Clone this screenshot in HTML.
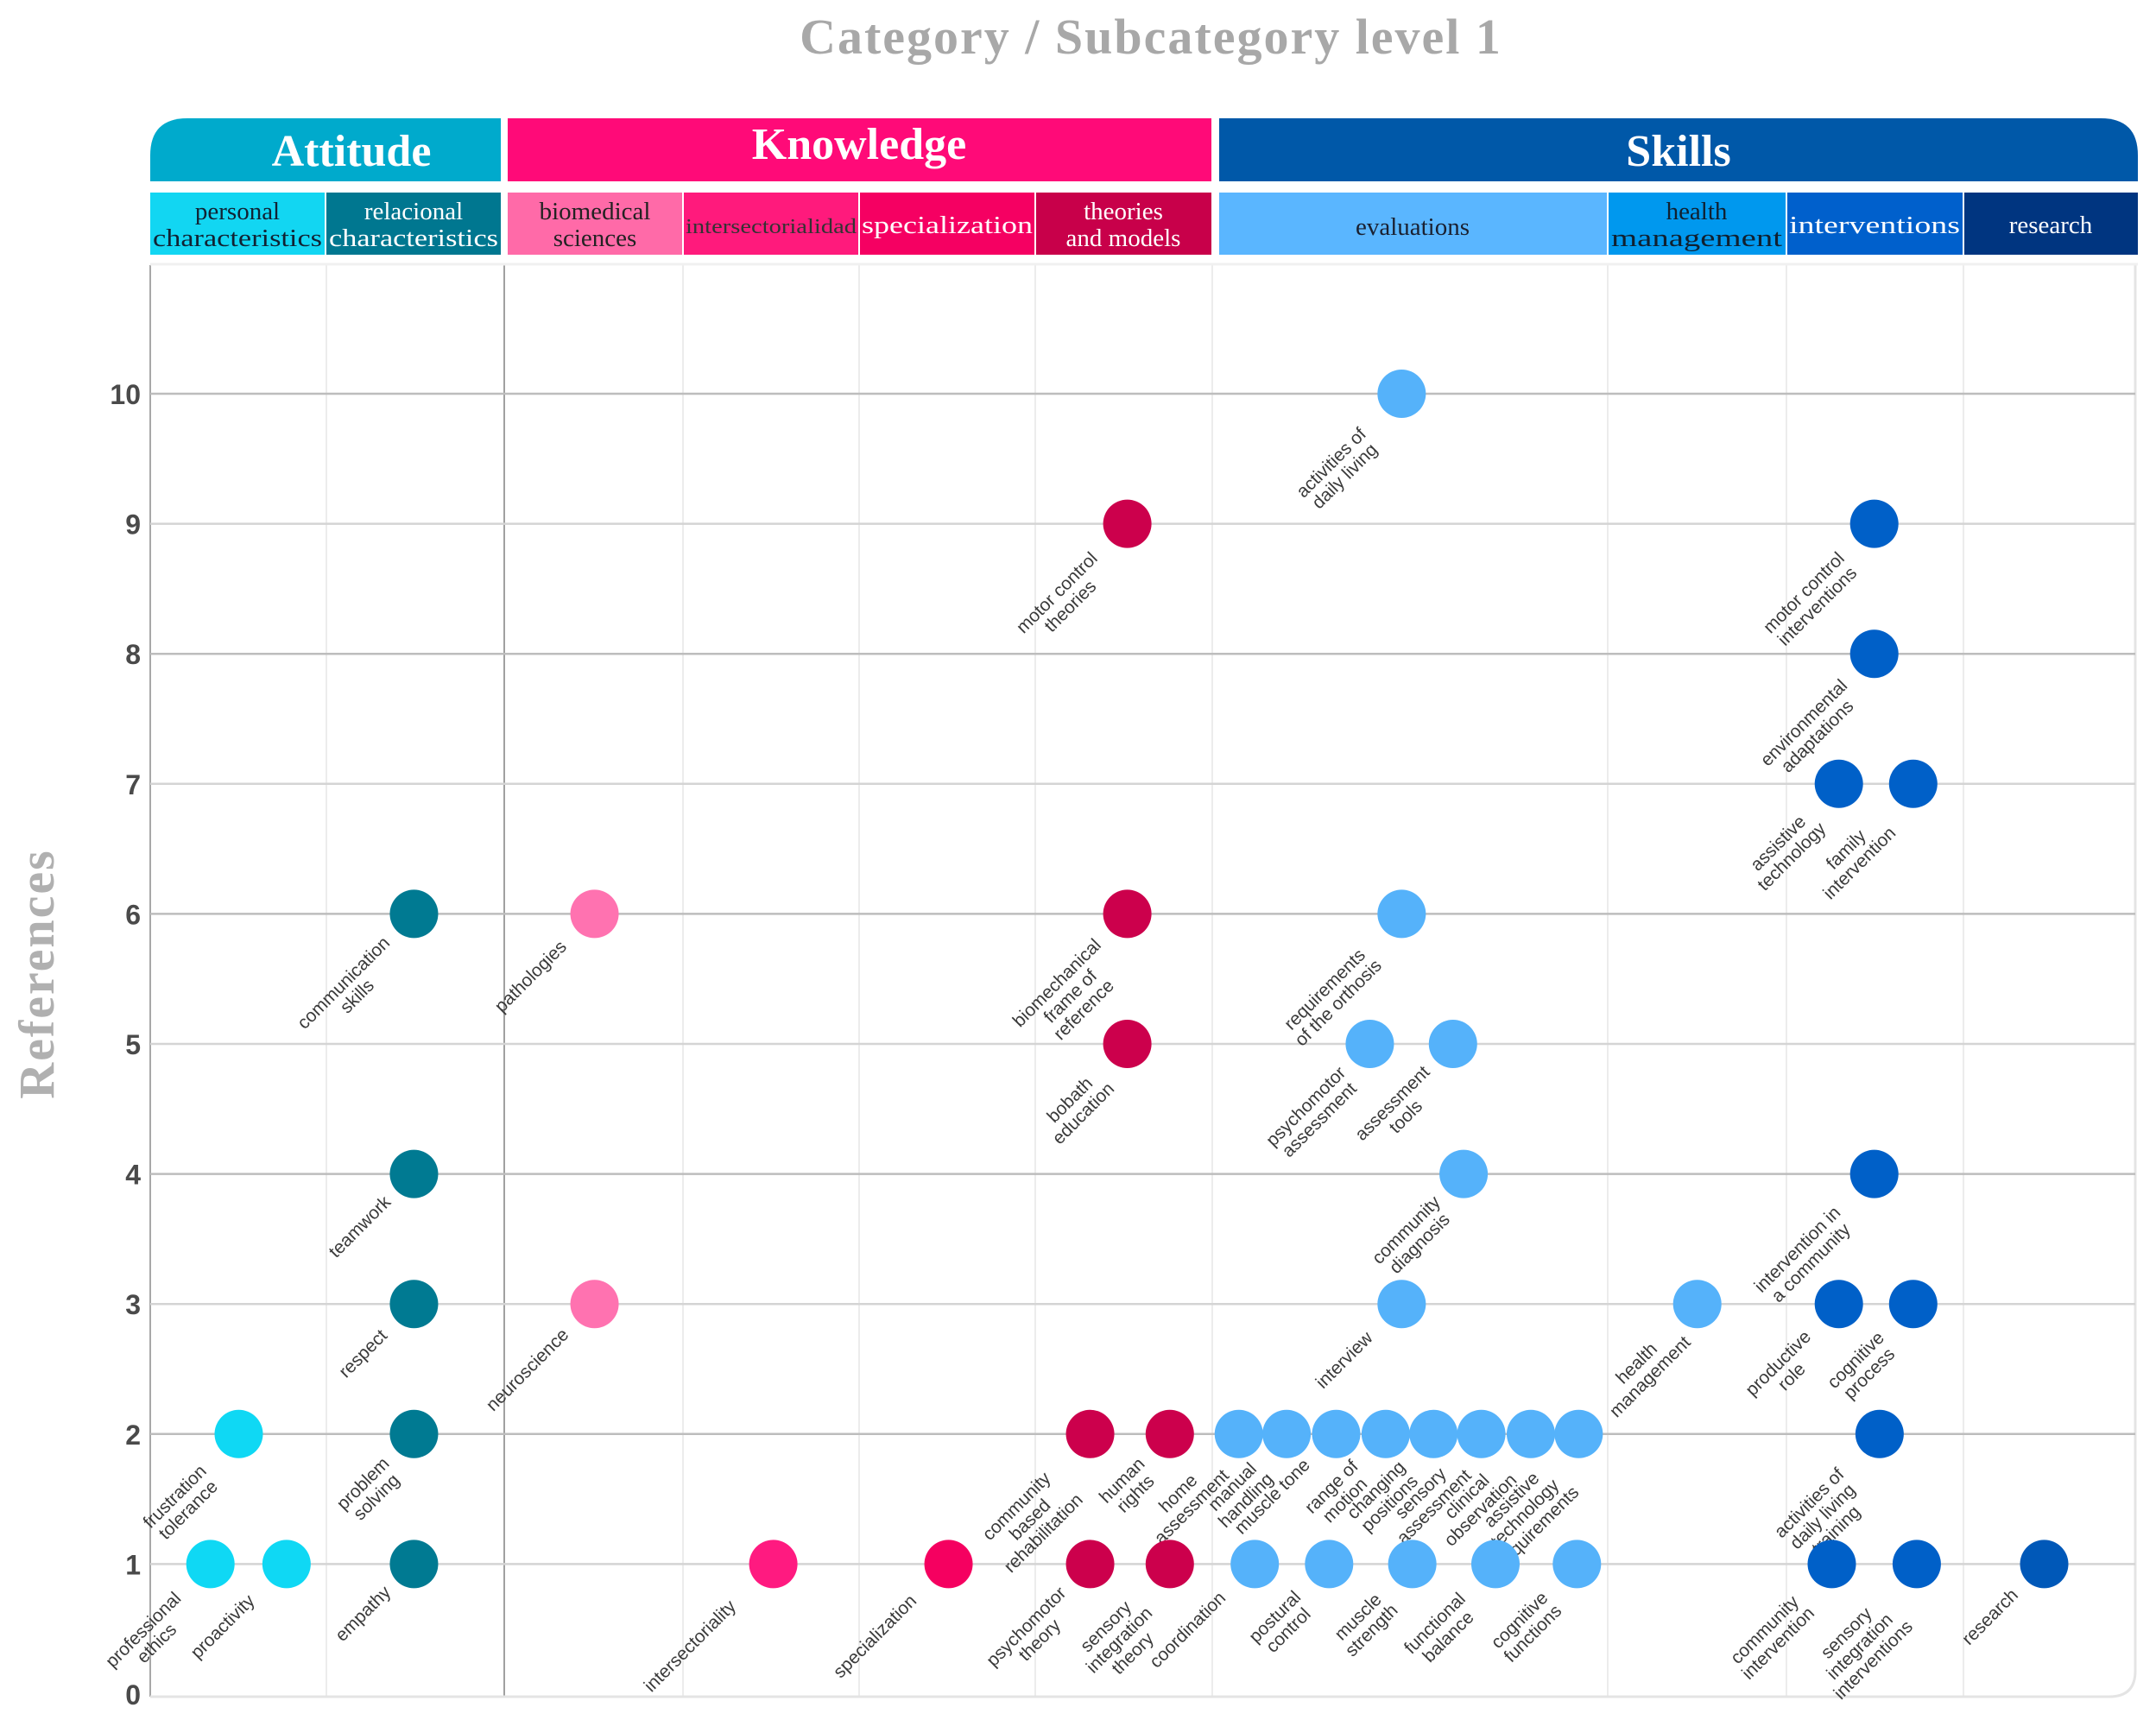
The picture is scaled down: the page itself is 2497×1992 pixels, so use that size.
<!DOCTYPE html>
<html><head><meta charset="utf-8"><title>Category / Subcategory level 1</title>
<style>
html,body{margin:0;padding:0;background:#fff;}
svg{display:block;}
</style></head>
<body>
<svg id="chart" xmlns="http://www.w3.org/2000/svg" width="2497" height="1992" viewBox="0 0 2497 1992">
  <text x="1333" y="62" text-anchor="middle" font-family="Liberation Serif, serif" font-weight="bold" font-size="58" fill="#a8a8a8" letter-spacing="2">Category / Subcategory level 1</text>
  <text transform="translate(62,1128) rotate(-90)" text-anchor="middle" font-family="Liberation Serif, serif" font-weight="bold" font-size="58" fill="#b0b0b0" letter-spacing="2">References</text>

  <g>
    <path d="M174,210 V180 Q174,137 217,137 H580 V210 Z" fill="#00aacc"/>
    <text x="407" y="192" text-anchor="middle" font-family="Liberation Serif, serif" font-weight="bold" font-size="52" fill="#fff">Attitude</text>
    <rect x="588" y="137" width="815" height="73" fill="#ff0a78"/>
    <text x="995" y="184" text-anchor="middle" font-family="Liberation Serif, serif" font-weight="bold" font-size="52" fill="#fff">Knowledge</text>
    <path d="M1412,137 H2433 Q2476,137 2476,180 V210 H1412 Z" fill="#0058a8"/>
    <text x="1944" y="192" text-anchor="middle" font-family="Liberation Serif, serif" font-weight="bold" font-size="52" fill="#fff">Skills</text>
  </g>

  <g font-family="Liberation Serif, serif" font-size="29" text-anchor="middle">
    <rect x="174" y="223" width="202" height="72" fill="#12d6f2"/>
    <text x="275" y="254" fill="#123">personal</text>
    <text x="275" y="285" fill="#123" textLength="196" lengthAdjust="spacingAndGlyphs">characteristics</text>
    <rect x="378" y="223" width="202" height="72" fill="#007790"/>
    <text x="479" y="254" fill="#fff">relacional</text>
    <text x="479" y="285" fill="#fff" textLength="196" lengthAdjust="spacingAndGlyphs">characteristics</text>
    <rect x="588" y="223" width="202" height="72" fill="#ff6aa8"/>
    <text x="689" y="254" fill="#222">biomedical</text>
    <text x="689" y="285" fill="#222">sciences</text>
    <rect x="792" y="223" width="202" height="72" fill="#ff1a7c"/>
    <text x="893" y="270" fill="#333" font-size="24" textLength="198" lengthAdjust="spacingAndGlyphs">intersectorialidad</text>
    <rect x="996" y="223" width="202" height="72" fill="#f50062"/>
    <text x="1097" y="270" fill="#fff" textLength="198" lengthAdjust="spacingAndGlyphs">specialization</text>
    <rect x="1200" y="223" width="203" height="72" fill="#c8004a"/>
    <text x="1301" y="254" fill="#fff">theories</text>
    <text x="1301" y="285" fill="#fff">and models</text>
    <rect x="1412" y="223" width="449" height="72" fill="#5ab6ff"/>
    <text x="1636" y="272" fill="#1a2030">evaluations</text>
    <rect x="1863" y="223" width="205" height="72" fill="#0098ee"/>
    <text x="1965" y="254" fill="#102030">health</text>
    <text x="1965" y="285" fill="#102030" textLength="198" lengthAdjust="spacingAndGlyphs">management</text>
    <rect x="2070" y="223" width="203" height="72" fill="#0060cc"/>
    <text x="2171" y="270" fill="#fff" textLength="198" lengthAdjust="spacingAndGlyphs">interventions</text>
    <rect x="2275" y="223" width="201" height="72" fill="#003580"/>
    <text x="2375" y="270" fill="#fff">research</text>
  </g>

  <g id="grid"></g>
  <g id="yaxis"></g>
  <g id="labels"></g>
  <g id="dots"></g>
</svg>
<script>
const names = ["professional|ethics","frustration|tolerance","proactivity",
  "communication|skills","teamwork","respect","problem|solving","empathy",
  "pathologies","neuroscience","intersectoriality","specialization",
  "motor control|theories","biomechanical|frame of|reference","bobath|education","community|based|rehabilitation","human|rights","psychomotor|theory","sensory|integration|theory",
  "activities of|daily living","requirements|of the orthosis","psychomotor|assessment","assessment|tools","community|diagnosis","interview",
  "home|assessment","manual|handling","muscle tone","range of|motion","changing|positions","sensory|assessment","clinical|observation","assistive|technology|requirements",
  "coordination","postural|control","muscle|strength","functional|balance","cognitive|functions",
  "health|management",
  "motor control|interventions","environmental|adaptations","assistive|technology","family|intervention","intervention in|a community","productive|role","cognitive|process","activities of|daily living|training","community|intervention","sensory|integration|interventions",
  "research"];
const colPos = [0.34,0.50,0.77,
  1.49,1.49,1.49,1.49,1.49,
  2.51,2.51,3.52,4.51,
  5.52,5.52,5.52,5.31,5.76,5.31,5.76,
  7.07,7.07,6.89,7.36,7.42,7.07,
  6.15,6.42,6.70,6.98,7.25,7.52,7.80,8.07,
  6.24,6.66,7.13,7.60,8.06,
  8.74,
  9.74,9.74,9.54,9.96,9.74,9.54,9.96,9.77,9.50,9.98,
  10.70];
const refs = [1,2,1,
  6,4,3,2,1,
  6,3,1,1,
  9,6,5,2,2,1,1,
  10,6,5,5,4,3,
  2,2,2,2,2,2,2,2,
  1,1,1,1,1,
  3,
  9,8,7,7,4,3,3,2,1,1,
  1];
const groups = ["per","per","per","rel","rel","rel","rel","rel","bio","bio","int","spe",
  "the","the","the","the","the","the","the",
  "eva","eva","eva","eva","eva","eva","eva","eva","eva","eva","eva","eva","eva","eva","eva","eva","eva","eva","eva",
  "hea","itv","itv","itv","itv","itv","itv","itv","itv","itv","itv","res"];
const yTicks = [0,1,2,3,4,5,6,7,8,9,10];

const colors = {per:"#0fd8f4",rel:"#007a92",bio:"#ff72b0",int:"#ff1a80",spe:"#f50060",the:"#cc004c",eva:"#55b2fa",hea:"#55b2fa",itv:"#0060c8",res:"#0058b8"};
const NS = "http://www.w3.org/2000/svg";
const X0 = 174, COLW = 205, Y0 = 1962, UNIT = 150.6, R = 28;
function xScale(u){ return X0 + u*COLW; }
function yScale(v){ return Y0 - v*UNIT; }
function mk(tag, attrs, parent){ const e=document.createElementNS(NS,tag); for(const k in attrs) e.setAttribute(k,attrs[k]); parent.appendChild(e); return e; }

const gridG = document.getElementById('grid');
const vlines = [378,791,995,1199,1404,1862,2069,2274];
vlines.forEach(x=>{
  const l = mk('line',{x1:x,y1:307,x2:x,y2:1965,stroke:'#ececec','stroke-width':2},gridG);
  
  
});
const sepLine = mk('line',{x1:584,y1:307,x2:584,y2:1965,stroke:'#a0a0a0','stroke-width':2},gridG);


const axLine = mk('line',{x1:174,y1:307,x2:174,y2:1965,stroke:'#a8a8a8','stroke-width':2},gridG);


const borderPath = mk('path',{d:'M2473,307 V1935 Q2473,1965 2443,1965 H174',fill:'none',stroke:'#e4e4e4','stroke-width':3},gridG);


const topBorder = mk('line',{x1:174,y1:306,x2:2476,y2:306,stroke:'#f0f0f0','stroke-width':3},gridG);



const yaxisG = document.getElementById('yaxis');
yTicks.forEach(v=>{
  const y = yScale(v);
  if(v>0){
    const g = mk('line',{x1:174,y1:y,x2:2473,y2:y,stroke:(v%2===0?'#bdbdbd':'#d4d4d4'),'stroke-width':2.5},gridG);
    
    
  }
  const t = mk('text',{x:163,y:y+12,'text-anchor':'end','font-family':'Liberation Sans, sans-serif','font-weight':'bold','font-size':32,fill:'#4a4a4a'},yaxisG);
  t.textContent = String(v);
  
  
});

const labelsG = document.getElementById('labels');
const dotsG = document.getElementById('dots');
names.forEach((nm,i)=>{
  const cx = xScale(colPos[i]), cy = yScale(refs[i]);
  const c = mk('circle',{cx:cx,cy:cy,r:R,fill:colors[groups[i]]},dotsG);
  
  
  const lines = nm.split('|');
  const lx = cx - 28, ly = cy + 36;
  const t = mk('text',{transform:'translate('+lx+','+ly+') rotate(-45)','text-anchor':'middle','font-family':'Liberation Sans, sans-serif','font-size':21,fill:'#3a3a3a'},labelsG);
  
  
  let maxw = 0; lines.forEach(s=>{ maxw = Math.max(maxw, s.length*10.6); });
  lines.forEach((s,j)=>{
    const ts = mk('tspan',{x:-maxw/2, y:j*22},t);
    ts.textContent = s;
  });
});
</script>
</body></html>
